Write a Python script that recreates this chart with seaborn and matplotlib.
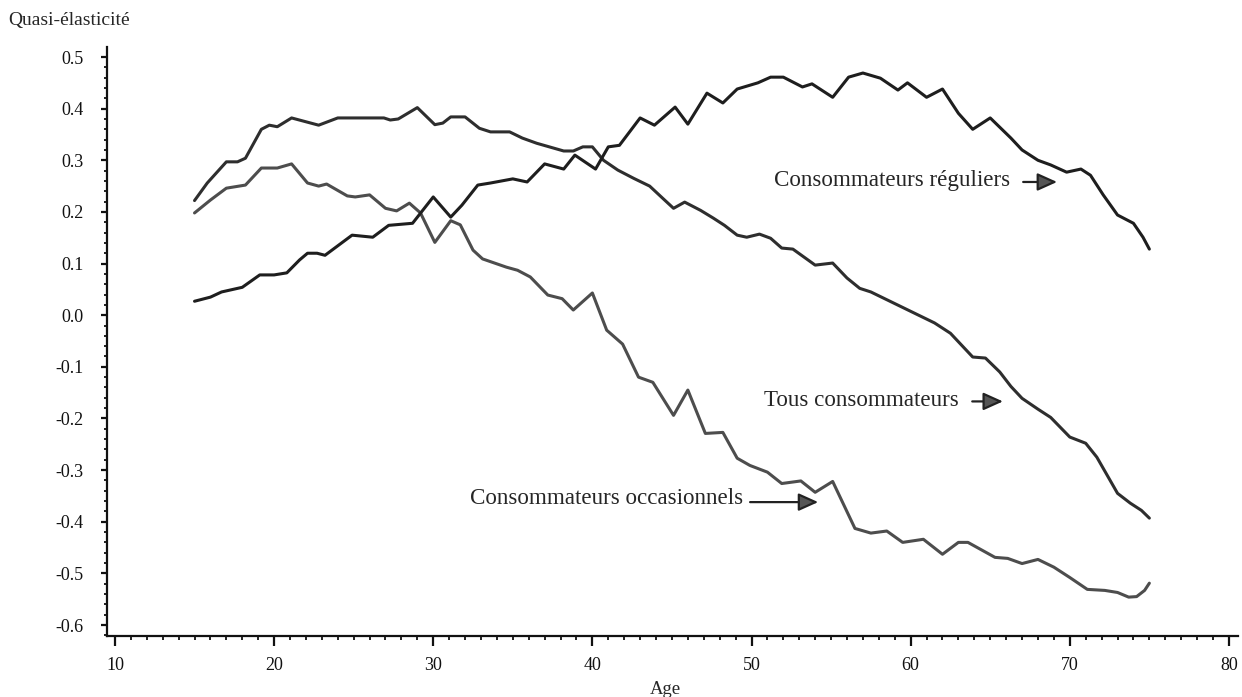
import pandas as pd
import matplotlib
matplotlib.use('Agg')
import matplotlib.pyplot as plt
from matplotlib.ticker import MultipleLocator, FormatStrFormatter
import seaborn as sns

# Tous consommateurs
ages_tous = [15.0, 15.8, 17.0, 17.7, 18.2, 19.2, 19.7, 20.2, 21.1, 22.8, 24.0, 26.9, 27.3, 27.8,
             29.0, 30.1, 30.6, 31.1, 32.0, 32.9, 33.6, 34.8, 35.6, 36.5, 38.2, 38.8, 39.4, 40.0,
             40.7, 41.6, 42.6, 43.6, 44.4, 45.1, 45.8, 46.8, 47.6, 48.3, 49.1, 49.7, 50.5, 51.2,
             51.9, 52.6, 54.0, 55.1, 56.0, 56.8, 57.5, 58.5, 59.5, 60.5, 61.5, 62.5, 63.9, 64.7,
             65.6, 66.3, 67.0, 68.0, 68.8, 70.0, 71.0, 71.7, 73.0, 73.8, 74.5, 75.0]
vals_tous = [0.222, 0.256, 0.297, 0.297, 0.304, 0.360, 0.368, 0.365, 0.382, 0.368, 0.382, 0.382, 0.378, 0.380,
             0.402, 0.369, 0.372, 0.384, 0.384, 0.362, 0.355, 0.355, 0.343, 0.333, 0.318, 0.318, 0.326, 0.326,
             0.300, 0.281, 0.265, 0.250, 0.227, 0.207, 0.219, 0.203, 0.188, 0.174, 0.155, 0.151, 0.157, 0.149,
             0.130, 0.128, 0.097, 0.101, 0.072, 0.052, 0.045, 0.030, 0.015, 0.000, -0.015, -0.035, -0.081, -0.083,
             -0.110, -0.138, -0.161, -0.182, -0.198, -0.236, -0.248, -0.275, -0.345, -0.364, -0.378, -0.393]

# Consommateurs occasionnels
ages_occ = [15.0, 16.0, 17.0, 18.2, 19.2, 20.2, 21.1, 22.1, 22.8, 23.3, 24.6, 25.1, 26.0, 27.0,
            27.7, 28.5, 29.2, 30.1, 31.1, 31.7, 32.5, 33.1, 34.6, 35.3, 36.1, 37.2, 38.1, 38.8,
            40.0, 40.9, 41.9, 42.9, 43.8, 45.1, 46.0, 47.1, 48.2, 49.1, 49.9, 51.0, 51.9, 53.1,
            54.0, 55.1, 56.5, 57.5, 58.5, 59.5, 60.8, 62.0, 63.0, 63.6, 65.3, 66.1, 67.0, 68.0,
            69.0, 70.0, 71.1, 72.2, 73.0, 73.7, 74.2, 74.7, 75.0]
vals_occ = [0.198, 0.223, 0.246, 0.252, 0.285, 0.285, 0.293, 0.256, 0.250, 0.254, 0.231, 0.229, 0.233, 0.207,
            0.202, 0.217, 0.198, 0.141, 0.183, 0.175, 0.126, 0.109, 0.093, 0.087, 0.074, 0.039, 0.032, 0.010,
            0.043, -0.029, -0.056, -0.120, -0.130, -0.194, -0.145, -0.229, -0.227, -0.277, -0.291, -0.304, -0.326, -0.321,
            -0.343, -0.322, -0.413, -0.422, -0.418, -0.440, -0.434, -0.463, -0.440, -0.440, -0.469, -0.471, -0.481, -0.473,
            -0.488, -0.508, -0.531, -0.533, -0.537, -0.546, -0.545, -0.533, -0.519]

# Consommateurs réguliers
ages_reg = [15.0, 16.0, 16.7, 18.0, 19.1, 20.0, 20.8, 21.6, 22.1, 22.7, 23.2, 24.9, 26.2, 27.2,
            28.7, 30.0, 31.1, 31.8, 32.8, 33.6, 35.0, 35.9, 37.0, 38.2, 38.9, 40.2, 41.0, 41.7,
            43.0, 43.9, 45.2, 46.0, 47.2, 48.2, 49.1, 50.4, 51.2, 52.0, 53.2, 53.8, 55.1, 56.1,
            57.0, 58.1, 59.2, 59.8, 61.0, 62.0, 63.0, 63.9, 65.0, 65.6, 66.3, 67.0, 68.0, 68.8,
            69.8, 70.7, 71.3, 72.1, 73.0, 74.0, 74.6, 75.0]
vals_reg = [0.027, 0.035, 0.045, 0.054, 0.078, 0.078, 0.082, 0.107, 0.120, 0.120, 0.116, 0.155, 0.151, 0.174,
            0.178, 0.229, 0.190, 0.213, 0.252, 0.256, 0.264, 0.258, 0.293, 0.283, 0.310, 0.283, 0.326, 0.329,
            0.382, 0.368, 0.403, 0.370, 0.430, 0.411, 0.438, 0.450, 0.461, 0.461, 0.442, 0.448, 0.422, 0.461,
            0.469, 0.459, 0.436, 0.450, 0.422, 0.438, 0.391, 0.360, 0.382, 0.364, 0.343, 0.320, 0.300, 0.291,
            0.277, 0.283, 0.271, 0.233, 0.194, 0.178, 0.151, 0.128]

series_names = ['Tous consommateurs', 'Consommateurs occasionnels', 'Consommateurs réguliers']

df = pd.concat([
    pd.DataFrame({'age': ages_tous, 'val': vals_tous, 'serie': series_names[0]}),
    pd.DataFrame({'age': ages_occ, 'val': vals_occ, 'serie': series_names[1]}),
    pd.DataFrame({'age': ages_reg, 'val': vals_reg, 'serie': series_names[2]}),
], ignore_index=True)

sns.set_style('ticks')
plt.rcParams['font.family'] = ['Liberation Serif', 'DejaVu Serif']
plt.rcParams['axes.unicode_minus'] = False

fig = plt.figure(figsize=(12.42, 6.97), dpi=100)
ax = fig.add_axes([107 / 1242, 1 - 636 / 697, (1238 - 107) / 1242, (636 - 47) / 697])

palette = {series_names[0]: '#2e2e2e', series_names[1]: '#4d4d4d', series_names[2]: '#1e1e1e'}
sns.lineplot(data=df, x='age', y='val', hue='serie', palette=palette, linewidth=2.2,
             estimator=None, sort=False, legend=False, ax=ax)

ax.set_xlim(9.5, 80.57)
ax.set_ylim(-0.6213, 0.5194)
ax.xaxis.set_major_locator(MultipleLocator(10))
ax.xaxis.set_minor_locator(MultipleLocator(1))
ax.yaxis.set_major_locator(MultipleLocator(0.1))
ax.yaxis.set_minor_locator(MultipleLocator(0.02))
ax.yaxis.set_major_formatter(FormatStrFormatter('%.1f'))
ax.set_xlabel('')
ax.set_ylabel('')

sns.despine(ax=ax)
for s in ['left', 'bottom']:
    ax.spines[s].set_linewidth(1.6)
    ax.spines[s].set_color('#111111')

ax.tick_params(axis='x', which='major', length=7, width=1.6, pad=8, labelsize=13, colors='#111111')
ax.tick_params(axis='x', which='minor', length=3, width=1.3, colors='#111111')
ax.tick_params(axis='y', which='major', length=4, width=1.6, pad=13, labelsize=13, colors='#111111')
ax.tick_params(axis='y', which='minor', length=2.5, width=1.3, colors='#111111')

fig.text(8 / 1242, 1 - 20 / 697, 'Quasi-élasticité', ha='left', va='center', fontsize=14)
fig.text(665 / 1242, 1 - 689 / 697, 'Age', ha='center', va='center', fontsize=13.5)

arrow = dict(arrowstyle='-|>,head_length=1.0,head_width=0.45', mutation_scale=12,
             fc='#555555', ec='#222222', lw=1.6, shrinkA=0, shrinkB=0)

ax.text(66.25, 0.26, 'Consommateurs réguliers', ha='right', va='center', fontsize=16.6)
ax.annotate('', xy=(69.2, 0.258), xytext=(67.07, 0.258), arrowprops=arrow)

ax.text(63.0, -0.165, 'Tous consommateurs', ha='right', va='center', fontsize=16.6)
ax.annotate('', xy=(65.8, -0.167), xytext=(63.87, -0.167), arrowprops=arrow)

ax.text(49.47, -0.355, 'Consommateurs occasionnels', ha='right', va='center', fontsize=16.6)
ax.annotate('', xy=(54.19, -0.362), xytext=(49.91, -0.362), arrowprops=arrow)

fig.savefig('out.png', dpi=100)
